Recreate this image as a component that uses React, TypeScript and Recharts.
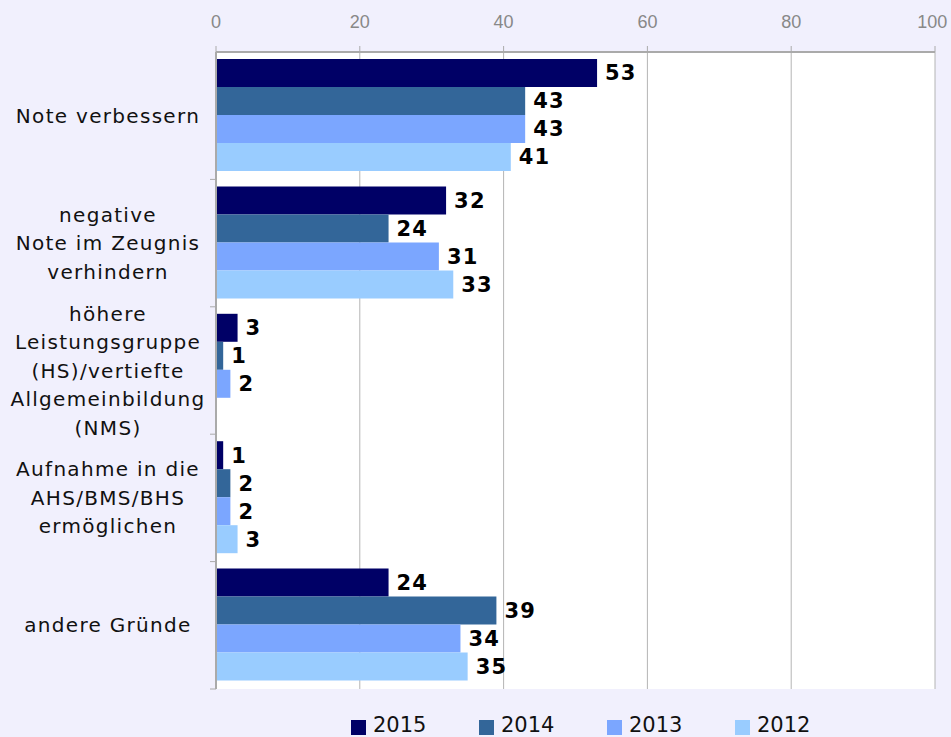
import React from "react";
import {
  BarChart,
  Bar,
  XAxis,
  YAxis,
  CartesianGrid,
  LabelList,
} from "recharts";

const CATEGORIES = [
  "Note verbessern",
  "negative\nNote im Zeugnis\nverhindern",
  "höhere\nLeistungsgruppe\n(HS)/vertiefte\nAllgemeinbildung\n(NMS)",
  "Aufnahme in die\nAHS/BMS/BHS\nermöglichen",
  "andere Gründe",
];

const Y2015 = [53, 32, 3, 1, 24];
const Y2014 = [43, 24, 1, 2, 39];
const Y2013 = [43, 31, 2, 2, 34];
const Y2012 = [41, 33, null, 3, 35];

const X_TICKS = [0, 20, 40, 60, 80, 100];

const SERIES = [
  { key: "2015", color: "#000066" },
  { key: "2014", color: "#336699" },
  { key: "2013", color: "#7ba6ff" },
  { key: "2012", color: "#99ccff" },
];

const data = CATEGORIES.map((name, i) => ({
  name,
  "2015": Y2015[i],
  "2014": Y2014[i],
  "2013": Y2013[i],
  "2012": Y2012[i],
}));

const W = 951;
const H = 737;
const MARGIN = { top: 12, right: 16, bottom: 48, left: 0 };
const X_AXIS_H = 40;
const PLOT_H = H - MARGIN.top - MARGIN.bottom - X_AXIS_H;
const BAND = PLOT_H / CATEGORIES.length;

const CategoryTick = (props: any) => {
  const { x, y, payload } = props;
  const lines = String(payload.value).split("\n");
  const lh = 28.5;
  const startY = y - ((lines.length - 1) * lh) / 2;
  return (
    <g>
      <line x1={x + 8} x2={x + 2} y1={y + BAND / 2} y2={y + BAND / 2} stroke="#aaa" />
      <text
        x={108}
        y={startY}
        textAnchor="middle"
        dominantBaseline="central"
        fontFamily="DejaVu Sans, Verdana, sans-serif"
        fontSize={20}
        letterSpacing={1.3}
        fill="#111"
      >
        {lines.map((l, i) => (
          <tspan key={i} x={108} dy={i === 0 ? 0 : lh}>
            {l}
          </tspan>
        ))}
      </text>
    </g>
  );
};

export default function App() {
  return (
    <div
      style={{
        position: "absolute",
        left: 0,
        top: 0,
        width: W,
        height: H,
        background: "#f1f0fd",
        overflow: "hidden",
      }}
    >
      <BarChart
        width={W}
        height={H}
        data={data}
        layout="vertical"
        margin={MARGIN}
        barCategoryGap={7}
        barGap={0}
      >
        <CartesianGrid horizontal={false} stroke="#b4b4b4" fill="#ffffff" xAxisId="top" />
        <XAxis
          xAxisId="top"
          type="number"
          orientation="top"
          domain={[0, 100]}
          ticks={X_TICKS}
          height={X_AXIS_H}
          axisLine={{ stroke: "#aaa", strokeWidth: 2 }}
          tickLine={{ stroke: "#aaa" }}
          tickSize={6}
          tickMargin={18}
          tick={{ fill: "#888", fontSize: 18, fontFamily: "Liberation Sans Narrow, Liberation Sans, sans-serif" }}
        />
        <XAxis
          xAxisId="bottom"
          type="number"
          orientation="bottom"
          domain={[0, 100]}
          height={0}
          tick={false}
          tickLine={false}
          axisLine={{ stroke: "#bbb", strokeWidth: 2 }}
        />
        <YAxis
          type="category"
          dataKey="name"
          width={216}
          axisLine={{ stroke: "#aaa", strokeWidth: 2 }}
          tickLine={false}
          tick={<CategoryTick />}
          interval={0}
        />
        {SERIES.map((s) => (
          <Bar
            key={s.key}
            dataKey={s.key}
            xAxisId="top"
            fill={s.color}
            isAnimationActive={false}
          >
            <LabelList
              dataKey={s.key}
              position="right"
              offset={8}
              style={{
                fontFamily: "DejaVu Sans, Verdana, sans-serif",
                fontWeight: "bold",
                fontSize: 21,
                letterSpacing: 1.2,
                fill: "#000",
              }}
            />
          </Bar>
        ))}
      </BarChart>
      <div
        style={{
          position: "absolute",
          left: 351,
          top: 713,
          display: "flex",
          fontFamily: "DejaVu Sans, Verdana, sans-serif",
          fontSize: 21,
          lineHeight: "24px",
          color: "#111",
        }}
      >
        {SERIES.map((s) => (
          <div key={s.key} style={{ width: 128, display: "flex", alignItems: "center" }}>
            <span
              style={{
                display: "inline-block",
                width: 15,
                height: 15,
                background: s.color,
                marginRight: 7,
                marginTop: 4,
              }}
            />
            <span>{s.key}</span>
          </div>
        ))}
      </div>
    </div>
  );
}
